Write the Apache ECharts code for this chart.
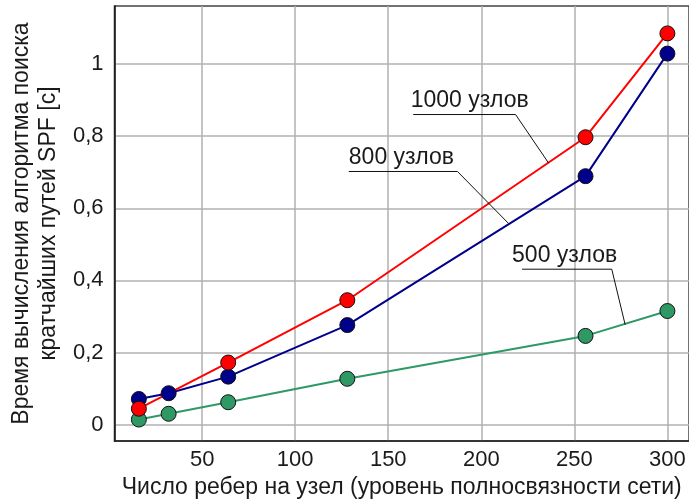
<!DOCTYPE html>
<html>
<head>
<meta charset="utf-8">
<script src="https://cdn.jsdelivr.net/npm/echarts@6/dist/echarts.min.js"></script>
<style>
  html, body { margin: 0; padding: 0; background: #fff; }
  #chart { width: 689px; height: 504px; }
</style>
</head>
<body>
<div id="chart"></div>
<script>
// Edges per node (x) for each network size
const edges1000 = [16, 64, 128, 256, 300];
const edges800 = [16, 32, 64, 128, 256, 300];
const edges500 = [16, 32, 64, 128, 256, 300];

// SPF computation time, seconds
const time1000 = [0.044, 0.172, 0.345, 0.797, 1.085];
const time800 = [0.071, 0.087, 0.133, 0.276, 0.689, 1.029];
const time500 = [0.014, 0.030, 0.062, 0.127, 0.246, 0.315];

// Tick values and their labels
const xTicks = [50, 100, 150, 200, 250, 300];
const yTicks = [0, 0.2, 0.4, 0.6, 0.8, 1];
const yTickLabels = ['0', '0,2', '0,4', '0,6', '0,8', '1'];

// Callout labels with their leader lines (underline start, underline end, tip on the curve)
const calloutNames = ['1000 узлов', '800 узлов', '500 узлов'];
const callout1000 = [[163.4, 0.860], [218.4, 0.860], [236.2, 0.725]];
const callout800 = [[128.8, 0.702], [187.2, 0.702], [214.8, 0.557]];
const callout500 = [[221.9, 0.431], [270.1, 0.431], [277.3, 0.277]];
// horizontal shift of each label's left edge relative to its underline start, px
const calloutShift = [-2.5, 0, -10];

const FONT = 'Liberation Sans, Arial, sans-serif';
const TEXT = '#1a1a1a';

function pairs(xs, ys) { return xs.map((x, i) => [x, ys[i]]); }

function dataSeries(name, xs, ys, color) {
  return {
    name: name,
    type: 'line',
    data: pairs(xs, ys),
    symbol: 'circle',
    symbolSize: 15,
    lineStyle: { color: color, width: 2 },
    itemStyle: { color: color, borderColor: '#111', borderWidth: 1 },
    z: 3
  };
}

function leaderSeries(pts) {
  return {
    type: 'line',
    silent: true,
    symbol: 'none',
    data: pts,
    lineStyle: { color: '#111', width: 1 },
    z: 4
  };
}

const chart = echarts.init(document.getElementById('chart'), null, { renderer: 'canvas' });

chart.setOption({
  animation: false,
  backgroundColor: '#fff',
  grid: {
    left: 114, right: -2, top: 6, bottom: 61,
    show: true, borderColor: '#444', borderWidth: 1.5, backgroundColor: 'transparent'
  },
  xAxis: {
    type: 'value',
    min: 2.9, max: 311.6,
    name: 'Число ребер на узел (уровень полносвязности сети)',
    nameLocation: 'middle',
    nameGap: 34,
    nameTextStyle: { fontFamily: FONT, fontSize: 23, color: TEXT },
    axisLine: { show: true, onZero: false, lineStyle: { color: '#222', width: 1.5 } },
    axisTick: { show: false, customValues: xTicks },
    axisLabel: { customValues: xTicks, fontFamily: FONT, fontSize: 22, color: TEXT, margin: 8 },
    splitLine: { show: true, lineStyle: { color: '#b0b0b0', width: 1.5 } }
  },
  yAxis: {
    type: 'value',
    min: -0.0458, max: 1.161,
    name: 'Время вычисления алгоритма поиска\nкратчайших путей SPF [c]',
    nameLocation: 'middle',
    nameGap: 51,
    nameTextStyle: { fontFamily: FONT, fontSize: 23, color: TEXT, lineHeight: 27 },
    axisLine: { show: true, onZero: false, lineStyle: { color: '#111', width: 1.5 } },
    axisTick: { show: false, customValues: yTicks },
    axisLabel: {
      customValues: yTicks,
      fontFamily: FONT, fontSize: 22, color: TEXT, margin: 11,
      formatter: v => yTickLabels[yTicks.findIndex(t => Math.abs(t - v) < 1e-9)] ?? ''
    },
    splitLine: { show: true, lineStyle: { color: '#b0b0b0', width: 1.5 } }
  },
  series: [
    leaderSeries(callout1000),
    leaderSeries(callout800),
    leaderSeries(callout500),
    dataSeries('500 узлов', edges500, time500, '#2f9966'),
    dataSeries('800 узлов', edges800, time800, '#00008b'),
    dataSeries('1000 узлов', edges1000, time1000, '#ff0000')
  ]
});

// Callout texts sit on top of each leader's underline
const callouts = [callout1000, callout800, callout500];
chart.setOption({
  graphic: callouts.map((pts, i) => {
    const p = chart.convertToPixel({ gridIndex: 0 }, pts[0]);
    return {
      type: 'text',
      x: p[0] + calloutShift[i],
      y: p[1] - 2,
      z: 10,
      style: {
        text: calloutNames[i],
        font: '23px ' + FONT,
        fill: TEXT,
        align: 'left',
        verticalAlign: 'bottom'
      }
    };
  })
});
</script>
</body>
</html>
